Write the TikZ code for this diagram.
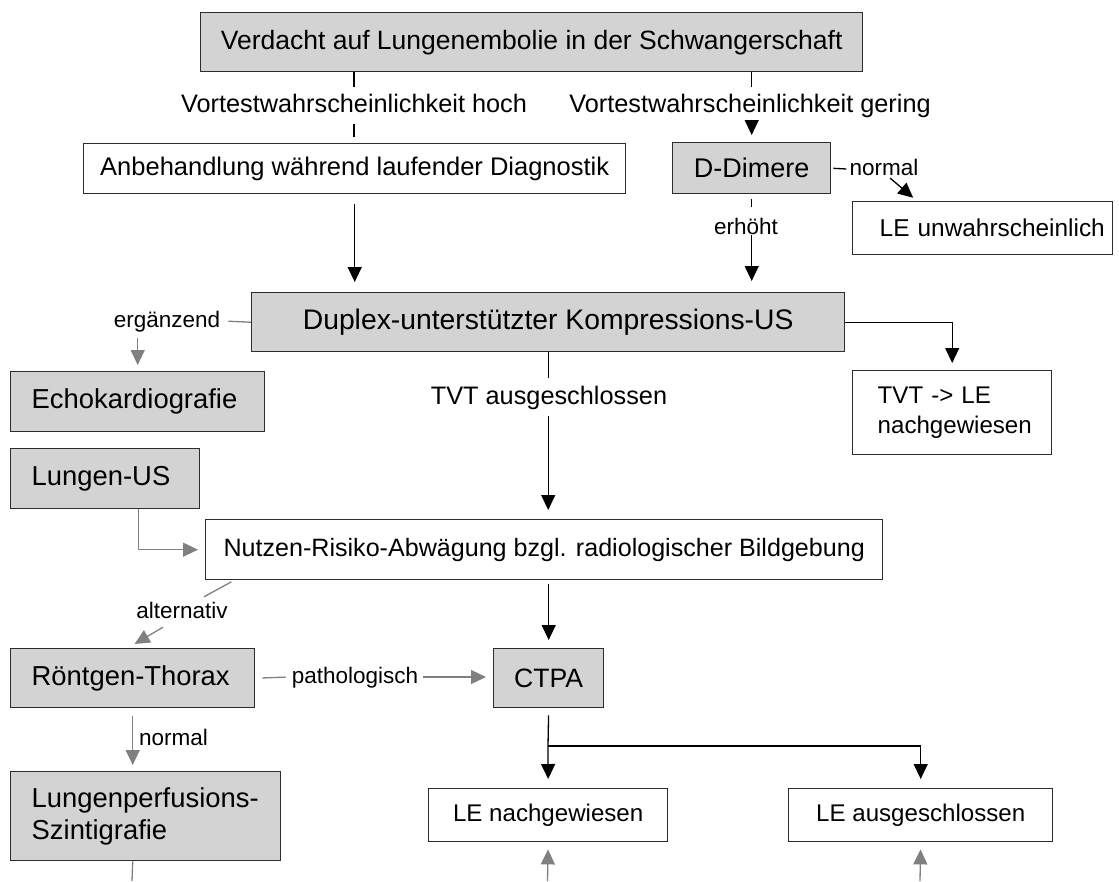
\documentclass[tikz,border=0pt]{standalone}
\usepackage{fontspec}
\setmainfont{Liberation Sans}
\usetikzlibrary{arrows.meta}
\definecolor{boxgray}{RGB}{211,211,211}
\definecolor{linegray}{RGB}{128,128,128}
\definecolor{edge}{RGB}{45,45,45}
\newcommand\fsz[2]{\fontsize{#1pt}{#2pt}\selectfont}

\begin{document}
\begin{tikzpicture}[x=1pt,y=-1pt,
  gbox/.style={draw=edge, fill=boxgray, line width=1.4pt, inner sep=0pt, anchor=north west},
  wbox/.style={draw=edge, fill=white, line width=1.4pt, inner sep=0pt, anchor=north west},
  lefttext/.style={align=left, text width=#1, inner xsep=21pt},
  mlab/.style={anchor=base, inner xsep=3pt, inner ysep=6.5pt, text height=19pt, text depth=5pt, font=\fsz{25.3}{30}},
  slab/.style={anchor=base, inner xsep=3pt, inner ysep=4pt, text height=17pt, text depth=5pt, font=\fsz{22.5}{27}},
  conn/.style={draw=black, line width=1.3pt},
  arr/.style={conn, -{Triangle[length=15pt,width=14pt]}},
  gline/.style={draw=linegray, line width=1.3pt},
  garr/.style={gline, -{Triangle[length=15pt,width=14pt]}}
]
\useasboundingbox[fill=white] (0,0) rectangle (1119,881);

% boxes
\node[gbox, minimum width=662, minimum height=59, font=\fsz{26.5}{32}] (susp) at (200,12)
  {Verdacht auf Lungenembolie in der Schwangerschaft};
\node[wbox, minimum width=542, minimum height=50, font=\fsz{25.5}{30}] (anb) at (83,143)
  {Anbehandlung während laufender Diagnostik};
\node[gbox, minimum width=158, minimum height=51, font=\fsz{27}{32}] (dd) at (672,142) {D-Dimere};
\node[wbox, align=left, text width=206, inner xsep=27pt, minimum width=260, minimum height=53,
  font=\fsz{24.4}{30}] (leunw) at (852,201) {\mbox{LE unwahrscheinlich}};
\node[gbox, minimum width=593, minimum height=59, font=\fsz{28.3}{34}] (duplex) at (251,292)
  {Duplex-unterstützter Kompressions-US};
\node[gbox, lefttext=212, minimum width=254, minimum height=60, font=\fsz{27.4}{32}] (echo) at (10,371)
  {Echokardiografie};
\node[wbox, align=left, text width=149, inner xsep=25pt, minimum width=199, minimum height=84,
  font=\fsz{24.1}{30}] (tvt) at (852,370) {TVT -> LE\\\mbox{nachgewiesen}};
\node[gbox, lefttext=147, minimum width=189, minimum height=60, font=\fsz{27.4}{32}] (lungus) at (10,448)
  {Lungen-US};
\node[wbox, minimum width=677, minimum height=60, font=\fsz{25.1}{30}] (nutzen) at (205,519)
  {Nutzen-Risiko-Abwägung bzgl. radiologischer Bildgebung};
\node[gbox, lefttext=202, minimum width=244, minimum height=59, font=\fsz{27.4}{32}] (roent) at (10,648)
  {\mbox{Röntgen-Thorax}};
\node[gbox, minimum width=110, minimum height=59, font=\fsz{26.6}{32}] (ctpa) at (493,648) {CTPA};
\node[gbox, lefttext=228, minimum width=270, minimum height=89, font=\fsz{27.4}{32}] (szint) at (10,771)
  {\mbox{Lungenperfusions-}\\Szintigrafie};
\node[wbox, minimum width=239, minimum height=53, font=\fsz{24.1}{30}] (lenach) at (428,788)
  {LE nachgewiesen};
\node[wbox, minimum width=264, minimum height=53, font=\fsz{24.1}{30}] (leaus) at (788,788)
  {LE ausgeschlossen};

% edge labels
\node[mlab] (hoch) at (354,112.5) {Vortestwahrscheinlichkeit hoch};
\node[mlab] (gering) at (750,112.5) {Vortestwahrscheinlichkeit gering};
\node[slab] (ddn) at (884,175) {normal};
\node[slab] (erh) at (746,234) {erhöht};
\node[slab] (erg) at (167,327) {ergänzend};
\node[mlab] (tvta) at (549,404) {TVT ausgeschlossen};
\node[slab] (alt) at (182,618) {alternativ};
\node[slab] (path) at (355,683) {pathologisch};
\node[slab, anchor=base west] (rnorm) at (136,745) {normal};

% free ends and branch point
\coordinate (split) at (548,746);
\coordinate (szout) at (132,881);
\coordinate (inA) at (547.5,881);
\coordinate (inB) at (920,881);

% pretest probability high
\draw[conn] (susp.south -| hoch) -- (hoch.north);
\draw[conn, shorten >=6pt] (hoch.south) -- (anb.north -| hoch);
\draw[arr, shorten <=10pt, shorten >=10pt] (anb.south) -- (duplex.north -| anb.south);

% pretest probability low
\draw[conn] (susp.south -| dd.north) -- (gering.north -| dd.north);
\draw[arr, shorten >=7pt] (gering.south -| dd.north) -- (dd.north);
\draw[conn, shorten <=2pt] (dd.east) -- (ddn.west);
\draw[arr, shorten >=5pt] ([xshift=6pt,yshift=-3pt]ddn.base) -- ([xshift=65pt]leunw.north west);
\draw[conn, shorten <=5pt, shorten >=6pt] (dd.south) -- (dd.south |- erh.north);
\draw[arr, shorten <=-8pt, shorten >=11pt] (dd.south |- erh.south) -- (duplex.north -| dd.south);

% compression ultrasound
\draw[gline, shorten >=5pt] (duplex.west) -- (erg.east);
\draw[garr, shorten <=2pt, shorten >=6pt] (erg.south -| echo.north) -- (echo.north);
\draw[arr, shorten >=7pt] (duplex.east) -| (tvt.north);
\draw[conn] (duplex.south) -- (duplex.south |- tvta.north);
\draw[arr, shorten >=9pt] (duplex.south |- tvta.south) -- (nutzen.north -| duplex.south);

% lung ultrasound
\draw[garr, shorten >=7pt] ([xshift=33.5pt]lungus.south) |- (nutzen.west);

% risk-benefit assessment
\draw[arr, shorten <=4pt, shorten >=8pt] (nutzen.south -| ctpa.north) -- (ctpa.north);
\draw[gline, shorten <=3pt] ([xshift=29pt]nutzen.south west) -- ([xshift=22pt]alt.north);
\draw[garr, shorten >=8pt] ([xshift=-19pt]alt.south) -- ([xshift=-5pt]roent.north);

% chest x-ray
\draw[gline, shorten <=7pt, shorten >=3pt] (roent.east) -- (path.west);
\draw[garr, shorten <=2pt, shorten >=7pt] (path.east) -- (ctpa.west |- path.east);
\draw[garr, shorten <=8pt, shorten >=6pt] (roent.south) -- (szint.north -| roent.south);
\draw[gline] (szint.south -| roent.south) -- (szout);

% CTPA outcome
\draw[conn, shorten <=7pt] (ctpa.south) -- (split);
\draw[arr, shorten >=9pt] (split) -- (lenach.north);
\draw[arr, shorten >=9pt] (split) -| (leaus.north);
\draw[garr, shorten >=7pt] (inA) -- (lenach.south);
\draw[garr, shorten >=7pt] (inB) -- (leaus.south);
\end{tikzpicture}
\end{document}
